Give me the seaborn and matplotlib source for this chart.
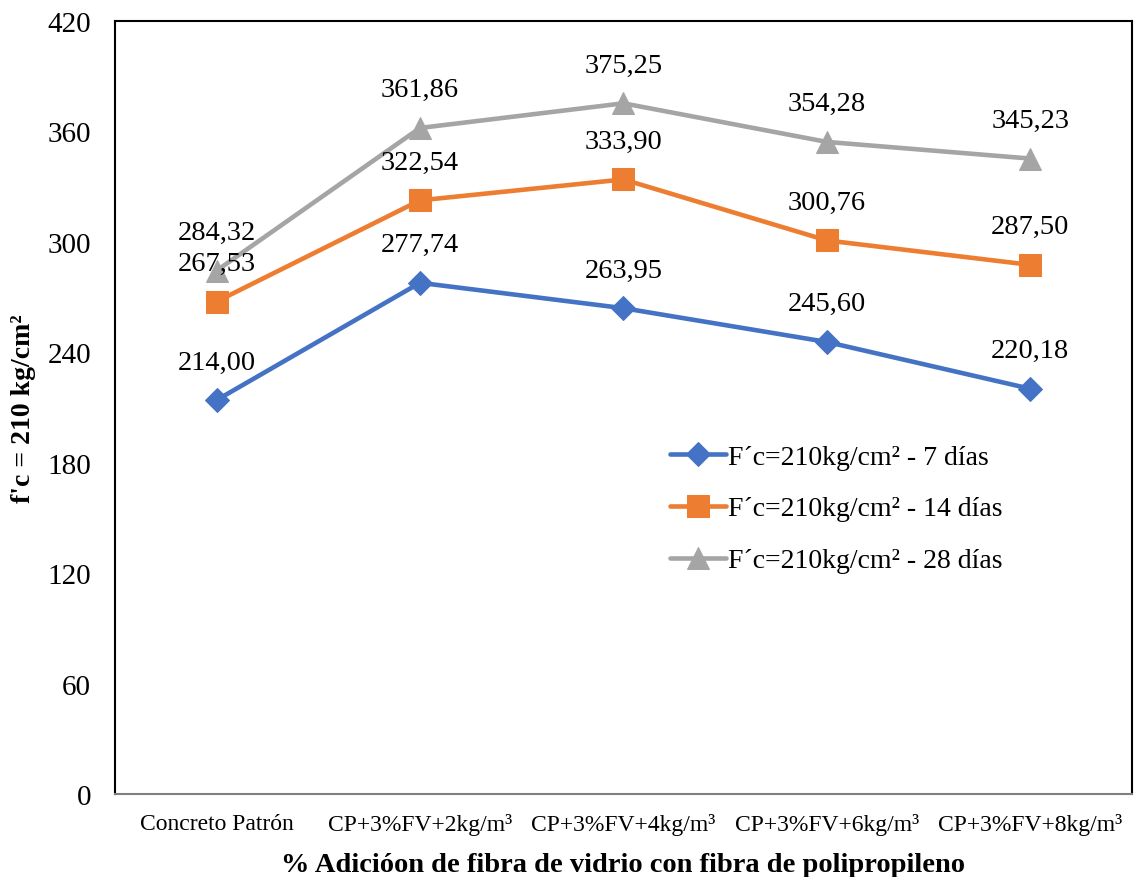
import matplotlib
matplotlib.use("Agg")
import matplotlib.pyplot as plt
import seaborn as sns
import pandas as pd

categories = ["Concreto Patrón", "CP+3%FV+2kg/m³", "CP+3%FV+4kg/m³",
              "CP+3%FV+6kg/m³", "CP+3%FV+8kg/m³"]
series_names = ["F´c=210kg/cm² - 7 días", "F´c=210kg/cm² - 14 días",
                "F´c=210kg/cm² - 28 días"]
dias_7 = [214.00, 277.74, 263.95, 245.60, 220.18]
dias_14 = [267.53, 322.54, 333.90, 300.76, 287.50]
dias_28 = [284.32, 361.86, 375.25, 354.28, 345.23]
y_ticks = [0, 60, 120, 180, 240, 300, 360, 420]

sns.set_theme(style="white")
plt.rcParams['font.family'] = ['Liberation Serif', 'DejaVu Serif']
plt.rcParams['text.color'] = 'black'
plt.rcParams['xtick.color'] = 'black'
plt.rcParams['ytick.color'] = 'black'
plt.rcParams['axes.labelcolor'] = 'black'

fig = plt.figure(figsize=(11.37, 8.78), dpi=100)
ax = fig.add_axes([0.101, 0.0945, 0.8946, 0.8805])

colors = ["#4472C4", "#ED7D31", "#A5A5A5"]
markers = ["D", "s", "^"]
msizes = [12, 16, 16]
all_vals = [dias_7, dias_14, dias_28]

for name, vals, c, m, ms in zip(series_names, all_vals, colors, markers, msizes):
    df = pd.DataFrame({"cat": categories, "val": vals})
    sns.lineplot(data=df, x="cat", y="val", ax=ax, color=c, linewidth=3.3,
                 marker=m, markersize=ms, markeredgecolor=c, label=name, sort=False)
    for xi, v in zip(categories, vals):
        ax.annotate(f"{v:.2f}".replace(".", ","), (xi, v), xytext=(0, 27.5),
                    textcoords="offset points", ha="center", va="center",
                    fontsize=20.5, color="black")

ax.set_xlim(-0.5, 4.5)
ax.set_ylim(0, 420)
ax.set_yticks(y_ticks)
ax.tick_params(axis='y', labelsize=21, length=0, pad=17)
ax.tick_params(axis='x', labelsize=17, length=0, pad=14)
ax.set_ylabel("f'c = 210 kg/cm²", fontsize=20, fontweight='bold', labelpad=8)
ax.set_xlabel("% Adicióon de fibra de vidrio con fibra de polipropileno",
              fontsize=20.5, fontweight='bold', labelpad=12)
for s in ax.spines.values():
    s.set_visible(True)
    s.set_color("black")
    s.set_linewidth(1.5)
ax.spines['bottom'].set_color("#808080")
ax.grid(False)

leg = ax.legend(loc="upper left", bbox_to_anchor=(0.535, 0.467), frameon=False,
                fontsize=20, handlelength=2.0, handletextpad=0.1, labelspacing=0.95,
                borderaxespad=0)

fig.savefig("out.png", dpi=100, facecolor="white")
